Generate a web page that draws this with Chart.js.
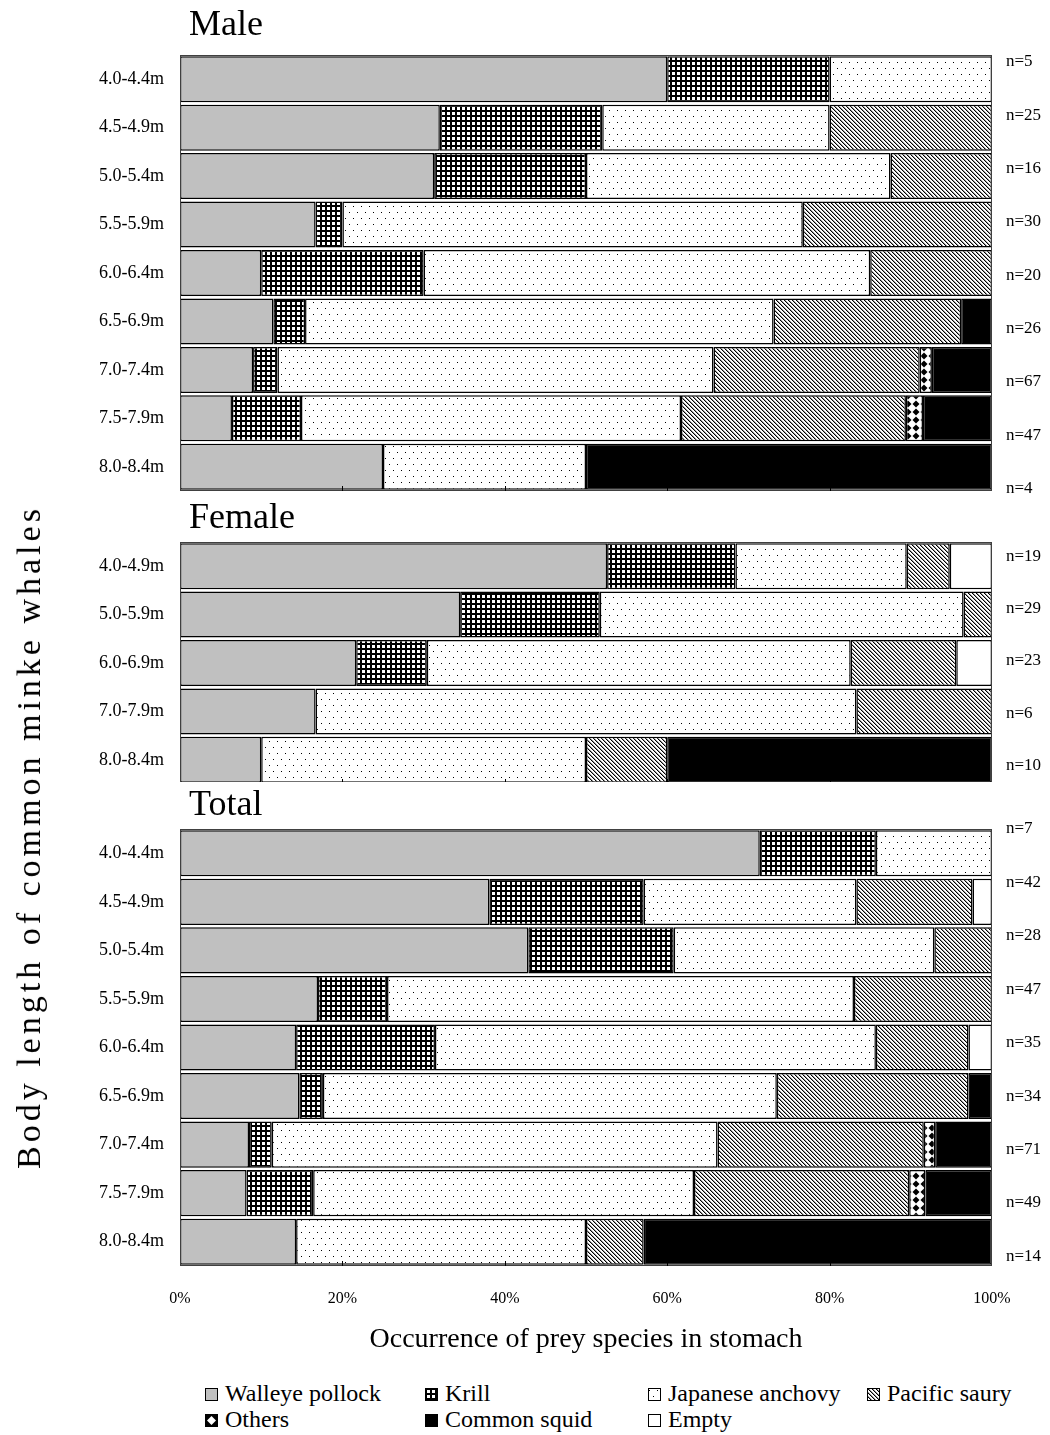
<!DOCTYPE html>
<html>
<head>
<meta charset="utf-8">
<title>Prey species of common minke whales</title>
<script src="https://cdn.jsdelivr.net/npm/chart.js@4.4.1/dist/chart.umd.min.js"></script>
<style>
    body { margin: 0; background: #fff; }
    #page { position: relative; width: 1050px; height: 1435px; overflow: hidden; font-family: "Liberation Serif", serif; color: #000; }
    #page > canvas { position: absolute; left: 0; }
    #femaleBox { position: absolute; left: 0; top: 493px; width: 1050px; height: 289px; overflow: hidden; }
    #ytitle { position: absolute; left: 29px; top: 837px; transform: translate(-50%, -50%) rotate(-90deg); font-size: 34px; letter-spacing: 4px; white-space: nowrap; }
    .lg { position: absolute; font-size: 24px; line-height: 26px; white-space: nowrap; }
    .sw { position: absolute; }
</style>
</head>
<body>
<div id="page">
    <canvas id="male" width="1050" height="500" style="top:0"></canvas>
    <div id="femaleBox"><canvas id="female" width="1050" height="295"></canvas></div>
    <canvas id="total" width="1050" height="600" style="top:780px"></canvas>
    <div id="ytitle">Body length of common minke whales</div>
    <div id="legend"></div>
</div>
<script>
const speciesNames = ["Walleye pollock", "Krill", "Japanese anchovy", "Pacific saury", "Others", "Common squid", "Empty"];
const xTicks = [0, 20, 40, 60, 80, 100];

// Male (% of stomachs)
const maleLengths = ["4.0-4.4m", "4.5-4.9m", "5.0-5.4m", "5.5-5.9m", "6.0-6.4m", "6.5-6.9m", "7.0-7.4m", "7.5-7.9m", "8.0-8.4m"];
const maleN = [5, 25, 16, 30, 20, 26, 67, 47, 4];
const malePollock = [60, 32, 31.3, 16.7, 10, 11.5, 9.0, 6.4, 25];
const maleKrill = [20, 20, 18.7, 3.3, 20, 3.9, 3.0, 8.5, 0];
const maleAnchovy = [20, 28, 37.5, 56.7, 55, 57.7, 53.7, 46.8, 25];
const maleSaury = [0, 20, 12.5, 23.3, 15, 23.1, 25.4, 27.7, 0];
const maleOthers = [0, 0, 0, 0, 0, 0, 1.5, 2.1, 0];
const maleSquid = [0, 0, 0, 0, 0, 3.8, 7.4, 8.5, 50];
const maleEmpty = [0, 0, 0, 0, 0, 0, 0, 0, 0];

// Female
const femaleLengths = ["4.0-4.9m", "5.0-5.9m", "6.0-6.9m", "7.0-7.9m", "8.0-8.4m"];
const femaleN = [19, 29, 23, 6, 10];
const femalePollock = [52.6, 34.5, 21.7, 16.7, 10];
const femaleKrill = [15.8, 17.2, 8.7, 0, 0];
const femaleAnchovy = [21.1, 44.8, 52.2, 66.6, 40];
const femaleSaury = [5.3, 3.5, 13.0, 16.7, 10];
const femaleOthers = [0, 0, 0, 0, 0];
const femaleSquid = [0, 0, 0, 0, 40];
const femaleEmpty = [5.2, 0, 4.4, 0, 0];

// Total
const totalLengths = ["4.0-4.4m", "4.5-4.9m", "5.0-5.4m", "5.5-5.9m", "6.0-6.4m", "6.5-6.9m", "7.0-7.4m", "7.5-7.9m", "8.0-8.4m"];
const totalN = [7, 42, 28, 47, 35, 34, 71, 49, 14];
const totalPollock = [71.4, 38.1, 42.9, 17.0, 14.3, 14.7, 8.5, 8.2, 14.3];
const totalKrill = [14.3, 19.0, 17.9, 8.5, 17.1, 2.9, 2.8, 8.2, 0];
const totalAnchovy = [14.3, 26.2, 32.1, 57.5, 54.3, 55.9, 54.9, 46.9, 35.7];
const totalSaury = [0, 14.3, 7.1, 17.0, 11.4, 23.6, 25.4, 26.5, 7.1];
const totalOthers = [0, 0, 0, 0, 0, 0, 1.4, 2.0, 0];
const totalSquid = [0, 0, 0, 0, 0, 2.9, 7.0, 8.2, 42.9];
const totalEmpty = [0, 2.4, 0, 0, 2.9, 0, 0, 0, 0];

Chart.defaults.font.family = "'Liberation Serif', serif";
Chart.defaults.color = "#000";

// small black & white tiles like the old excel fill patterns
const patCtx = document.createElement("canvas").getContext("2d");
function tile(w, h, draw) {
    let c = document.createElement("canvas");
    c.width = w; c.height = h;
    let g = c.getContext("2d");
    g.fillStyle = "#fff";
    g.fillRect(0, 0, w, h);
    g.fillStyle = "#000";
    draw(g);
    return patCtx.createPattern(c, "repeat");
}
const fills = [
    "#c0c0c0",
    tile(5, 5, g => { g.fillRect(0, 0, 5, 2); g.fillRect(0, 0, 2, 5); }),
    tile(8, 12, g => { g.fillRect(1, 2, 1, 1); g.fillRect(5, 8, 1, 1); }),
    tile(4, 4, g => {
        for (let i = 0; i < 4; i++) {
            g.fillStyle = "#000";
            g.fillRect(i, i, 1, 1);
            g.fillStyle = "#999";
            g.fillRect((i + 1) % 4, i, 1, 1);
        }
    }),
    tile(8, 8, g => { g.beginPath(); g.moveTo(4, 0.5); g.lineTo(7.5, 4); g.lineTo(4, 7.5); g.lineTo(0.5, 4); g.closePath(); g.fill(); }),
    "#000",
    "#fff"
];

// plot border + short inward ticks on the bottom edge, and nudge the panel title right
const framePlugin = {
    id: "frame",
    afterLayout(chart) {
        if (chart.titleBlock) {
            chart.titleBlock.left += 9;
            chart.titleBlock.right += 9;
        }
    },
    afterDatasetsDraw(chart) {
        let ctx = chart.ctx, a = chart.chartArea, x = chart.scales.x;
        ctx.save();
        ctx.strokeStyle = "#404040";
        ctx.lineWidth = 1;
        ctx.strokeRect(a.left + 0.5, a.top + 0.5, a.width - 1, a.height - 1);
        ctx.strokeStyle = "#000";
        xTicks.slice(1, -1).forEach(v => {
            let px = Math.round(x.getPixelForValue(v)) + 0.5;
            ctx.beginPath();
            ctx.moveTo(px, a.bottom);
            ctx.lineTo(px, a.bottom - 5);
            ctx.stroke();
        });
        ctx.restore();
    }
};

function noPad(s) {
    s.paddingTop = 0;
    s.paddingBottom = 0;
    s.paddingLeft = 0;
    s.paddingRight = 0;
}

class Panel {
    constructor(id, title, lengths, nList, series, look) {
        this.id = id;
        this.title = title;
        this.lengths = lengths;
        this.nList = nList;
        this.series = series;
        this.look = look;
    }
    draw() {
        let datasets = this.series.map((vals, i) => ({
            label: speciesNames[i],
            data: vals.map(v => v > 0 ? v : null),
            backgroundColor: fills[i],
            borderColor: "#000",
            borderWidth: 1.5,
            borderSkipped: false,
            barPercentage: 0.95,
            categoryPercentage: 1
        }));
        let nList = this.nList;
        let look = this.look;
        new Chart(this.id, {
            type: "bar",
            data: { labels: this.lengths, datasets: datasets },
            plugins: [framePlugin],
            options: {
                indexAxis: "y",
                responsive: false,
                animation: false,
                events: [],
                layout: { padding: { left: 0, right: 0, top: 0, bottom: look.padBottom } },
                plugins: {
                    legend: { display: false },
                    tooltip: { enabled: false },
                    title: {
                        display: true,
                        text: this.title,
                        align: "start",
                        fullSize: false,
                        color: "#000",
                        font: { size: 36, weight: "normal" },
                        padding: look.titlePad
                    }
                },
                scales: {
                    x: {
                        stacked: true,
                        min: 0,
                        max: 100,
                        display: look.showX,
                        afterBuildTicks: s => { s.ticks = xTicks.map(v => ({ value: v })); },
                        ticks: { callback: v => v + "%", font: { size: 16 }, padding: 23, maxRotation: 0, autoSkip: false },
                        grid: { display: false, drawTicks: false },
                        border: { display: false },
                        title: {
                            display: true,
                            text: "Occurrence of prey species in stomach",
                            font: { size: 28 },
                            padding: { top: 15, bottom: 0 }
                        },
                        afterFit: s => { s.height = look.showX ? 90.8 : 0; noPad(s); }
                    },
                    y: {
                        stacked: true,
                        grid: { display: false, drawTicks: false },
                        border: { display: false },
                        ticks: { font: { size: 18 }, padding: 16 },
                        afterFit: s => { s.width = 180; noPad(s); }
                    },
                    y2: {
                        type: "linear",
                        position: "right",
                        reverse: true,
                        offset: false,
                        min: look.nRange[0],
                        max: look.nRange[1],
                        afterBuildTicks: s => { s.ticks = nList.map((n, i) => ({ value: i })); },
                        ticks: { callback: v => "n=" + nList[v], font: { size: 17 }, padding: 14, autoSkip: false },
                        grid: { display: false, drawTicks: false, offset: false },
                        border: { display: false },
                        afterFit: s => { s.width = 58; noPad(s); }
                    }
                }
            }
        });
    }
}

function buildLegend() {
    let box = document.querySelector("#legend");
    let cols = [205, 425, 648, 867];
    let rows = [1394, 1420];
    speciesNames.forEach((name, i) => {
        let x = cols[i % 4], y = rows[Math.floor(i / 4)];
        let sw = document.createElement("canvas");
        sw.width = 13; sw.height = 13;
        sw.className = "sw";
        sw.style.left = x + "px";
        sw.style.top = (y - 6) + "px";
        let g = sw.getContext("2d");
        if (name == "Others") {
            // the legend key is drawn inverted: white diamond on black
            g.fillStyle = "#000";
            g.fillRect(0, 0, 13, 13);
            g.fillStyle = "#fff";
            g.beginPath(); g.moveTo(6.5, 2); g.lineTo(11, 6.5); g.lineTo(6.5, 11); g.lineTo(2, 6.5); g.closePath(); g.fill();
        } else {
            g.fillStyle = fills[i];
            g.fillRect(0, 0, 13, 13);
        }
        g.strokeStyle = "#000";
        g.lineWidth = 1;
        g.strokeRect(0.5, 0.5, 12, 12);
        box.appendChild(sw);
        let t = document.createElement("div");
        t.className = "lg";
        t.textContent = name;
        t.style.left = (x + 20) + "px";
        t.style.top = (y - 14) + "px";
        box.appendChild(t);
    });
}

(function () {
    new Panel("male", "Male", maleLengths, maleN,
        [malePollock, maleKrill, maleAnchovy, maleSaury, maleOthers, maleSquid, maleEmpty],
        { titlePad: { top: 4, bottom: 7.8 }, padBottom: 9, nRange: [-0.13, 8.05], showX: false }).draw();
    new Panel("female", "Female", femaleLengths, femaleN,
        [femalePollock, femaleKrill, femaleAnchovy, femaleSaury, femaleOthers, femaleSquid, femaleEmpty],
        { titlePad: { top: 4, bottom: 1.8 }, padBottom: 4, nRange: [-0.27, 4.35], showX: false }).draw();
    new Panel("total", "Total", totalLengths, totalN,
        [totalPollock, totalKrill, totalAnchovy, totalSaury, totalOthers, totalSquid, totalEmpty],
        { titlePad: { top: 4, bottom: 1.8 }, padBottom: 23.2, nRange: [0, 8.18], showX: true }).draw();
    buildLegend();
})();
</script>
</body>
</html>
